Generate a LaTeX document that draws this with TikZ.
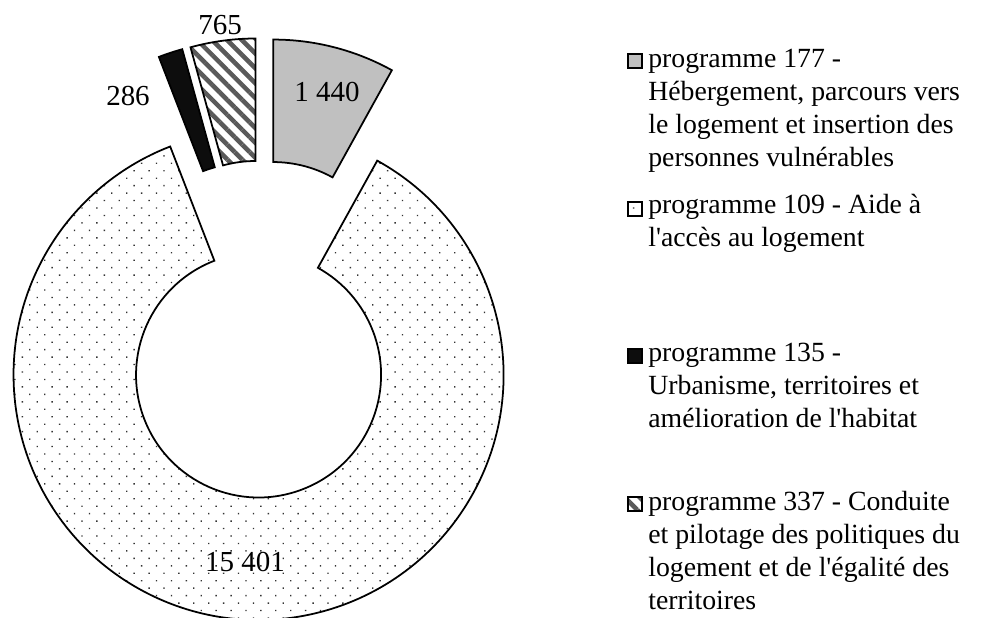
\documentclass[tikz,border=0pt]{standalone}
\usepackage{fontspec}
\setmainfont{Liberation Serif}[Ligatures=TeXOff]
\usetikzlibrary{patterns.meta}
\definecolor{pgray}{HTML}{C0C0C0}
\definecolor{pblack}{HTML}{0D0D0D}
\definecolor{pdots}{HTML}{333333}
\definecolor{phatch}{HTML}{5A5A5A}
\tikzset{
  slice/.style={draw=black, line width=1pt},
  gray177/.style={fill=pgray},
  dots109/.style={pattern={Dots[distance=6pt, angle=45, radius=0.55pt]}, pattern color=pdots},
  black135/.style={fill=pblack},
  hatch337/.style={pattern={Lines[angle=-45, distance=6pt, line width=2.6pt]}, pattern color=phatch},
  key/.style={draw=black, line width=0.6pt, minimum size=0.28cm, inner sep=0pt},
  legend/.style={anchor=north west, align=left, inner sep=0pt, font=\fontsize{15.8}{18.7}\selectfont},
  value/.style={inner sep=0pt, font=\fontsize{16.5}{18}\selectfont}
}

\begin{document}
\begin{tikzpicture}[x=0.02cm, y=0.02cm]
  \fill[white] (0,0) rectangle (1003,618);
  \useasboundingbox (0,0) rectangle (1003,618);
  % slices
  \begin{scope}[shift={(261.7,288.9)}]
    \foreach \a/\b/\st in {90/61.026/gray177, 61.026/-248.852/dots109, 111.148/105.393/black135, 105.393/90/hatch337}{
      \pgfmathsetmacro{\m}{(\a+\b)/2}
      \begin{scope}[shift={(\m:46)}]
        \draw[slice, \st] (\a:245) arc[start angle=\a, end angle=\b, radius=245]
          -- (\b:122.5) arc[start angle=\b, end angle=\a, radius=122.5] -- cycle;
      \end{scope}
    }
  \end{scope}
  % values
  \node[value] (v765) at (220,593) {765};
  \node[value] (v286) at (128,522) {286};
  \node[value] (v1440) at (327,526) {1 440};
  \node[value] (v15401) at (245,56) {15 401};
  % legend
  \node[key, gray177] (k177) at (635,557) {};
  \node[legend] (l177) at (648,569) {programme 177 -\\Hébergement, parcours vers\\le logement et insertion des\\personnes vulnérables};
  \node[key, dots109] (k109) at (635,409) {};
  \node[legend] (l109) at (648,424) {programme 109 - Aide à\\l'accès au logement};
  \node[key, black135] (k135) at (635,262) {};
  \node[legend] (l135) at (648,275) {programme 135 -\\Urbanisme, territoires et\\amélioration de l'habitat};
  \node[key, hatch337] (k337) at (635,114) {};
  \node[legend] (l337) at (648,127) {programme 337 - Conduite\\et pilotage des politiques du\\logement et de l'égalité des\\territoires};
\end{tikzpicture}
\end{document}
